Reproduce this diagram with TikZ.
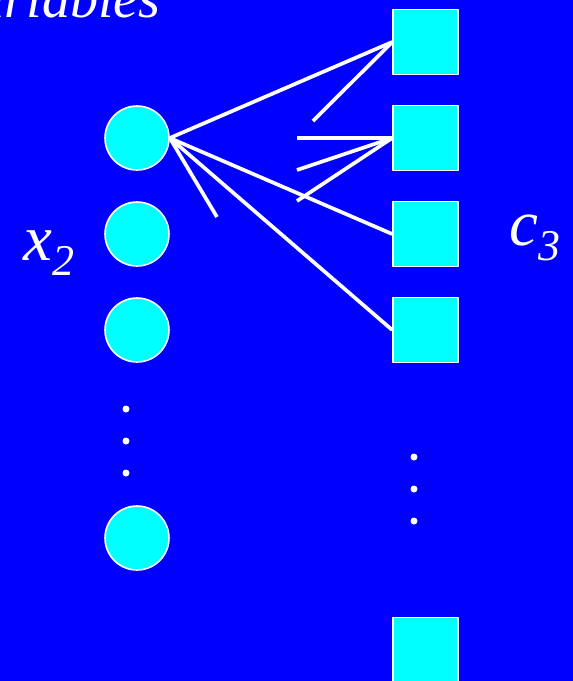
\documentclass[tikz,border=0pt]{standalone}
\usepackage{fontspec}
\setmainfont{Liberation Serif}
\begin{document}
\begin{tikzpicture}[x=0.02cm, y=-0.02cm, line join=round,
  varnode/.style={circle, draw=white, fill=nodecyan, minimum size=1.28cm, inner sep=0pt, line width=0.9pt},
  chknode/.style={rectangle, draw=white, fill=nodecyan, minimum size=1.3cm, inner sep=0pt, line width=0.9pt},
  link/.style={white, line width=2.1pt},
  vdot/.style={circle, fill=white, inner sep=0pt, minimum size=0.14cm},
  lbl/.style={white, font=\fontsize{37}{44}\selectfont\itshape, inner sep=0pt}]
  \definecolor{bgblue}{RGB}{0,0,255}
  \definecolor{nodecyan}{RGB}{0,255,255}
  \fill[bgblue] (0,0) rectangle (573,681);
  \useasboundingbox (0,0) rectangle (573,681);
  \begin{scope}
    \clip (0,0) rectangle (573,681);
    % labels
    \node[lbl, font=\fontsize{32}{38}\selectfont\itshape, anchor=base east] (title) at (161,17) {Variables};
    \node[lbl, anchor=base west] (xlab) at (23,260) {x\raisebox{-9pt}{\fontsize{25}{30}\selectfont 2}};
    \node[lbl, anchor=base west] (clab) at (509,245) {c\raisebox{-9pt}{\fontsize{25}{30}\selectfont 3}};
    % variable nodes
    \foreach \y/\n in {138/1, 234/2, 330/3, 538/4}
      \node[varnode] (v\n) at (137,\y) {};
    \foreach \y/\n in {409/1, 441/2, 473/3}
      \node[vdot] (ld\n) at (126,\y) {};
    % check nodes
    \foreach \y/\n in {42/1, 138/2, 234/3, 330/4, 650/5}
      \node[chknode] (c\n) at (425.5,\y) {};
    \foreach \y/\n in {457/1, 489/2, 521/3}
      \node[vdot] (rd\n) at (414,\y) {};
    % free ends
    \coordinate (e1) at (217,217);
    \coordinate (e2) at (313,121);
    \coordinate (e3) at (297,138);
    \coordinate (e4) at (297,170);
    \coordinate (e5) at (297,201);
    % edges
    \draw[link] (v1.east) -- (c1.west);
    \draw[link] (v1.east) -- (c3.west);
    \draw[link] (v1.east) -- (c4.west);
    \draw[link] (v1.east) -- (e1);
    \draw[link] (c1.west) -- (e2);
    \draw[link] (c2.west) -- (e3);
    \draw[link] (c2.west) -- (e4);
    \draw[link] (c2.west) -- (e5);
  \end{scope}
\end{tikzpicture}
\end{document}
